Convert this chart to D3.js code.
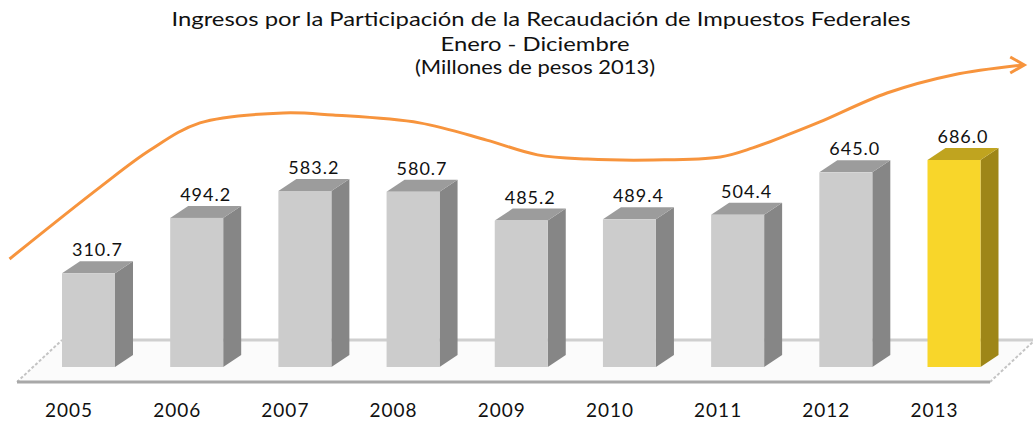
<!DOCTYPE html>
<html>
<head>
<meta charset="utf-8">
<script src="https://cdn.jsdelivr.net/npm/d3@7"></script>
<style>
  body { margin: 0; background: #fff; }
  text { font-family: Lato, "Open Sans", sans-serif; fill: #111; }
</style>
</head>
<body>
<div class="chart"></div>
<script>
var years = ["2005", "2006", "2007", "2008", "2009", "2010", "2011", "2012", "2013"];
var values = [310.7, 494.2, 583.2, 580.7, 485.2, 489.4, 504.4, 645.0, 686.0];
var titleLines = ["Ingresos por la Participación de la Recaudación de Impuestos Federales",
                  "Enero - Diciembre",
                  "(Millones de pesos 2013)"];
// trend arrow, as [category index, value]
var trendIdx = [-0.73, 0.11, 0.57, 1.03, 1.80, 2.26, 3.06, 3.68, 4.15, 4.61, 5.22, 5.84, 6.14, 6.46, 6.76, 7.38, 7.99, 8.64];
var trendVal = [358, 597, 719, 809, 842, 835, 809, 752, 703, 689, 686, 696, 726, 769, 812, 908, 968, 1001];

var W = 1033, H = 421;
var barW = 53, dx = 18, dy = 12;

var svg = d3.select(".chart").append("svg")
    .attr("width", W)
    .attr("height", H);

var x = d3.scalePoint().domain(years).range([88.5, 954]);
var xi = d3.scaleLinear().domain([0, years.length - 1]).range([88.5, 954]);
var y = d3.scaleLinear().domain([0, 686]).range([367, 160]);

// title (font is narrower than the original, so stretch to its width)
var titleX = [541, 535, 535], titleY = [26, 51, 74], titleW = [739, 189, 240];
svg.selectAll(".title")
    .data(titleLines)
    .enter()
    .append("text")
    .attr("class", "title")
    .attr("x", function (d, i) { return titleX[i]; })
    .attr("y", function (d, i) { return titleY[i]; })
    .attr("text-anchor", "middle")
    .attr("textLength", function (d, i) { return titleW[i]; })
    .attr("lengthAdjust", "spacingAndGlyphs")
    .style("font-size", "19px")
    .text(function (d) { return d; });

// floor
var fl = x(years[0]) - 71.5, fr = x(years[years.length - 1]) + 36;
var fy = 382, fdx = 45, fdy = 42;
svg.append("path")
    .attr("d", "M" + fl + "," + fy + "L" + fr + "," + fy + "L" + (fr + fdx) + "," + (fy - fdy) + "L" + (fl + fdx) + "," + (fy - fdy) + "Z")
    .attr("fill", "#fbfbfb");
svg.append("line")
    .attr("x1", fl + fdx).attr("x2", W)
    .attr("y1", fy - fdy).attr("y2", fy - fdy)
    .attr("stroke", "#cfcfcf").attr("stroke-width", 3);
svg.selectAll(".diag")
    .data([fl, fr])
    .enter()
    .append("line")
    .attr("x1", function (d) { return d; })
    .attr("y1", fy)
    .attr("x2", function (d) { return d + fdx; })
    .attr("y2", fy - fdy)
    .attr("stroke", "#c4c4c4").attr("stroke-width", 2)
    .attr("stroke-dasharray", "3,2");
svg.append("line")
    .attr("x1", fl).attr("x2", fr)
    .attr("y1", fy).attr("y2", fy)
    .attr("stroke", "#a8a8a8").attr("stroke-width", 3);

// bars
var cols = function (i) {
    return i == years.length - 1
        ? { front: "#f8d62a", top: "#c0a41f", side: "#9e8618" }
        : { front: "#cccccc", top: "#9c9c9c", side: "#868686" };
};

var bars = svg.selectAll(".bar")
    .data(values)
    .enter()
    .append("g")
    .attr("class", "bar");

bars.append("path")
    .attr("d", function (d, i) {
        var x0 = x(years[i]) + barW / 2, t = y(d), b = y(0);
        return "M" + x0 + "," + t + "L" + (x0 + dx) + "," + (t - dy) + "L" + (x0 + dx) + "," + (b - dy) + "L" + x0 + "," + b + "Z";
    })
    .attr("fill", function (d, i) { return cols(i).side; });

bars.append("path")
    .attr("d", function (d, i) {
        var x0 = x(years[i]) - barW / 2, t = y(d);
        return "M" + x0 + "," + t + "L" + (x0 + dx) + "," + (t - dy) + "L" + (x0 + barW + dx) + "," + (t - dy) + "L" + (x0 + barW) + "," + t + "Z";
    })
    .attr("fill", function (d, i) { return cols(i).top; });

bars.append("rect")
    .attr("x", function (d, i) { return x(years[i]) - barW / 2; })
    .attr("y", function (d) { return y(d); })
    .attr("width", barW)
    .attr("height", function (d) { return y(0) - y(d); })
    .attr("fill", function (d, i) { return cols(i).front; });

bars.append("text")
    .attr("x", function (d, i) { return x(years[i]) + dx / 2; })
    .attr("y", function (d) { return y(d) - dy - 5; })
    .attr("text-anchor", "middle")
    .style("font-size", "18px")
    .style("letter-spacing", "1px")
    .text(function (d) { return d.toFixed(1); });

// year axis
var xAxis = svg.append("g")
    .attr("transform", "translate(-20,398)")
    .call(d3.axisBottom(x).tickSize(0).tickPadding(0));
xAxis.select(".domain").remove();
xAxis.selectAll("text")
    .attr("dy", "0")
    .attr("y", 19)
    .style("font-size", "19px")
    .style("letter-spacing", "1px")
    .style("font-family", "Lato, sans-serif")
    .attr("fill", "#111");

// trend arrow
var trend = trendIdx.map(function (d, i) { return [xi(d), y(trendVal[i])]; });
svg.append("path")
    .attr("d", d3.line().curve(d3.curveCatmullRom)(trend))
    .attr("fill", "none")
    .attr("stroke", "#f7943d")
    .attr("stroke-width", 3);
var tip = trend[trend.length - 1];
svg.append("path")
    .attr("d", "M" + (tip[0] - 13) + "," + (tip[1] - 8) + "L" + (tip[0] + 1) + "," + tip[1] + "L" + (tip[0] - 13) + "," + (tip[1] + 8))
    .attr("fill", "none")
    .attr("stroke", "#f7943d")
    .attr("stroke-width", 3);
</script>
</body>
</html>
